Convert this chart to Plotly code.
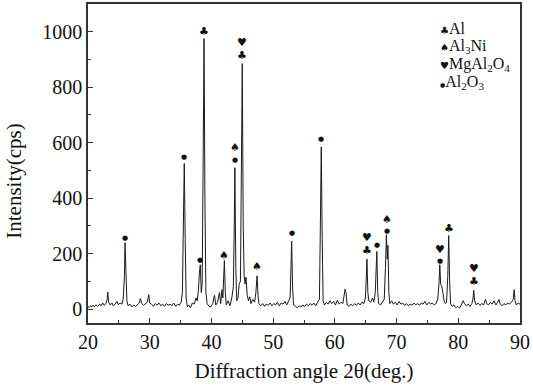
import plotly.graph_objects as go

# XRD pattern (2θ in degrees, intensity in cps)
two_theta = [
    20.0, 20.2, 20.4, 20.6, 20.8, 21.0, 21.3, 21.6, 21.9, 22.1, 22.4, 22.6, 22.9, 23.1, 23.2, 23.35,
    23.6, 23.9, 24.1, 24.4, 24.7, 24.9, 25.2, 25.5, 25.7, 25.9, 26.0, 26.15, 26.3, 26.5,
    26.8, 27.1, 27.4, 27.7, 28.0, 28.3, 28.5, 28.7, 29.0, 29.3, 29.6, 29.85, 30.0, 30.3, 30.6, 30.9,
    31.2, 31.5, 31.8, 32.1, 32.4, 32.7, 33.0, 33.3, 33.6, 33.9, 34.2, 34.5, 34.8, 35.1, 35.3, 35.45,
    35.6, 35.75, 35.9, 36.1, 36.3, 36.6, 36.9, 37.2, 37.5, 37.7, 37.9, 38.05, 38.2, 38.35, 38.5, 38.65,
    38.8, 38.95, 39.1, 39.3, 39.6, 39.9, 40.2, 40.5, 40.7, 41.0, 41.3, 41.5, 41.7, 41.85, 42.0, 42.1,
    42.25, 42.4, 42.7, 43.0, 43.3, 43.55, 43.7, 43.8, 43.95, 44.1, 44.3, 44.5, 44.7, 44.85, 45.0, 45.15,
    45.3, 45.45, 45.6, 45.8, 46.0, 46.2, 46.4, 46.7, 47.0, 47.2, 47.4, 47.55, 47.7, 48.0, 48.3, 48.6,
    48.9, 49.2, 49.5, 49.8, 50.1, 50.4, 50.7, 51.0, 51.3, 51.6, 51.9, 52.2, 52.5, 52.75, 52.9, 53.0,
    53.15, 53.3, 53.6, 53.9, 54.2, 54.5, 54.8, 55.1, 55.4, 55.7, 56.0, 56.3, 56.6, 56.9, 57.2, 57.5,
    57.65, 57.8, 57.95, 58.1, 58.3, 58.6, 58.9, 59.2, 59.5, 59.8, 60.1, 60.4, 60.7, 61.0, 61.3, 61.5,
    61.65, 61.8, 62.0, 62.3, 62.6, 62.9, 63.2, 63.5, 63.8, 64.1, 64.4, 64.7, 64.95, 65.1, 65.2, 65.35,
    65.5, 65.8, 66.1, 66.3, 66.55, 66.7, 66.8, 66.95, 67.1, 67.4, 67.7, 68.0, 68.2, 68.35, 68.5, 68.6,
    68.75, 68.9, 69.2, 69.5, 69.8, 70.1, 70.4, 70.7, 71.0, 71.3, 71.6, 71.9, 72.2, 72.5, 72.8, 73.1,
    73.4, 73.7, 74.0, 74.3, 74.6, 74.9, 75.2, 75.5, 75.8, 76.1, 76.4, 76.7, 76.9, 77.0, 77.15, 77.3,
    77.5, 77.7, 77.9, 78.1, 78.3, 78.45, 78.6, 78.75, 79.0, 79.3, 79.6, 79.9, 80.2, 80.5, 80.8, 81.0,
    81.3, 81.6, 81.9, 82.2, 82.4, 82.5, 82.65, 82.9, 83.2, 83.5, 83.8, 84.1, 84.4, 84.6, 84.9, 85.2,
    85.5, 85.8, 86.1, 86.4, 86.6, 86.8, 87.1, 87.4, 87.7, 88.0, 88.3, 88.6, 88.9, 89.05, 89.2, 89.4,
    89.7, 90.0,
]
intensity = [
    10, 6, 12, 8, 14, 9, 15, 10, 18, 12, 22, 14, 20, 35, 62, 25,
    15, 22, 12, 18, 28, 16, 22, 18, 35, 120, 240, 110, 30, 12,
    18, 8, 15, 10, 18, 22, 38, 20, 14, 18, 25, 52, 22, 18, 10, 20,
    14, 22, 12, 18, 10, 20, 14, 18, 12, 22, 10, 18, 14, 25, 60, 300,
    525, 250, 40, 8, 15, 5, 22, 18, 40, 30, 70, 130, 160, 60, 90, 500,
    975, 400, 60, 20, 10, 8, 20, 50, 15, 25, 60, 20, 70, 40, 130, 175,
    60, 15, 30, 12, 40, 80, 300, 510, 150, 30, 40, 90, 100, 400, 885, 300,
    120, 90, 115, 50, 30, 45, 20, 35, 25, 60, 120, 50, 20, 12, 20, 10,
    18, 14, 22, 12, 20, 15, 25, 12, 22, 18, 28, 15, 30, 40, 160, 245,
    80, 15, 10, 5, 12, 8, 15, 10, 18, 12, 20, 14, 22, 12, 25, 35,
    300, 585, 250, 30, 15, 25, 18, 30, 20, 28, 15, 32, 18, 25, 20, 65,
    72, 60, 15, 10, 18, 12, 20, 14, 22, 15, 25, 20, 40, 120, 180, 60,
    30, 25, 40, 25, 60, 150, 208, 60, 20, 15, 25, 35, 150, 268, 180, 230,
    60, 20, 30, 18, 25, 15, 28, 18, 22, 14, 20, 12, 18, 14, 22, 15,
    20, 14, 22, 18, 28, 15, 25, 18, 22, 15, 20, 40, 100, 160, 90, 85,
    60, 30, 20, 25, 120, 265, 100, 20, 10, 15, 5, 10, 3, 15, 30, 20,
    12, 18, 10, 20, 40, 68, 30, 15, 22, 14, 20, 15, 35, 20, 15, 25,
    18, 30, 15, 25, 35, 18, 12, 20, 15, 22, 18, 25, 35, 70, 30, 15,
    22, 18,
]

# Phase markers above the peaks: symbol, 2θ, intensity level
marker_symbols = ["♣", "♥", "♣", "♠", "●", "●", "●", "●", "♠", "♠", "●",
                  "●", "♥", "♣", "●", "♠", "●", "♥", "●", "♣", "♥", "♣"]
marker_theta = [38.8, 45.0, 45.0, 43.8, 43.8, 35.6, 26.0, 38.2, 42.1, 47.4, 53.0,
                57.8, 65.2, 65.2, 66.8, 68.4, 68.4, 77.0, 77.0, 78.5, 82.5, 82.5]
marker_level = [1000, 962, 915, 582, 537, 547, 258, 177, 193, 152, 273,
                612, 257, 210, 232, 324, 282, 214, 172, 292, 145, 100]

legend_symbols = ["♣", "♠", "♥", "●"]
legend_labels = ["Al", "Al<sub>3</sub>Ni", "MgAl<sub>2</sub>O<sub>4</sub>", "Al<sub>2</sub>O<sub>3</sub>"]

x_ticks = [20, 30, 40, 50, 60, 70, 80, 90]
y_ticks = [0, 200, 400, 600, 800, 1000]

SERIF = "Liberation Serif, Times New Roman, serif"
SYM = "DejaVu Sans"

fig = go.Figure()
fig.add_trace(go.Scatter(x=two_theta, y=intensity, mode="lines",
                         line=dict(color="#1a1a1a", width=1), showlegend=False,
                         hoverinfo="skip"))

for s, t, lv in zip(marker_symbols, marker_theta, marker_level):
    size = 7 if s == "●" else 11
    fig.add_annotation(x=t, y=lv, text=s, showarrow=False, xref="x", yref="y",
                       font=dict(family=SYM, size=size, color="#111"),
                       xanchor="center", yanchor="middle")

legend_y = [0.922, 0.866, 0.81, 0.754]
for i, (s, lab) in enumerate(zip(legend_symbols, legend_labels)):
    ssize = 6 if s == "●" else 10
    fig.add_annotation(x=0.81, y=legend_y[i], xref="paper", yref="paper",
                       text=f"<span style='font-family:{SYM};font-size:{ssize}px'>{s}</span>{lab}",
                       showarrow=False, xanchor="left", yanchor="middle",
                       font=dict(family=SERIF, size=16, color="#111"))

# y-axis title (placed slightly below the axis centre as in the reference)
fig.add_annotation(x=-0.172, y=0.445, xref="paper", yref="paper", text="Intensity(cps)",
                   textangle=-90, showarrow=False, xanchor="center", yanchor="middle",
                   font=dict(family=SERIF, size=21, color="#111"))

axis_common = dict(showline=True, mirror=True, linecolor="#333", linewidth=1.5,
                   ticks="inside", ticklen=5, tickwidth=1.2, tickcolor="#333",
                   showgrid=False, zeroline=False,
                   tickfont=dict(family=SERIF, size=20, color="#111"))

fig.update_xaxes(range=[20, 90], tickvals=x_ticks,
                 minor=dict(ticks="inside", dtick=5, tick0=20, ticklen=3, tickcolor="#333"),
                 title=dict(text="Diffraction angle 2θ(deg.)", standoff=12,
                            font=dict(family=SERIF, size=21, color="#111")),
                 **axis_common)
fig.update_yaxes(range=[-50, 1100], tickvals=y_ticks,
                 minor=dict(ticks="inside", dtick=100, tick0=0, ticklen=3, tickcolor="#333"),
                 **axis_common)

fig.update_layout(width=533, height=387, margin=dict(l=88, r=13, t=2, b=64),
                  plot_bgcolor="white", paper_bgcolor="white")

fig.write_html("out.html", config={"displayModeBar": False},
               post_script="document.body.style.margin='0';")
